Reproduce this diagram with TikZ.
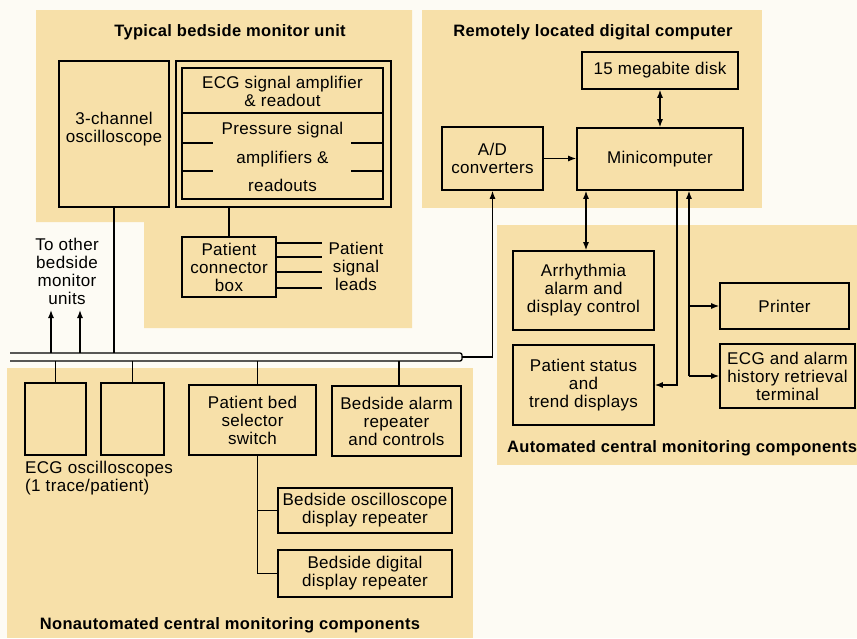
\documentclass[tikz,border=0pt]{standalone}
\usepackage{fontspec}
\setmainfont{Liberation Sans}[LetterSpace=2]
\usetikzlibrary{arrows.meta}
\definecolor{panel}{HTML}{F7E0A9}
\definecolor{paper}{HTML}{FDFBF4}
\newcommand\myfs{\fontsize{17}{18}\selectfont}
\newcommand\mytitle{\fontsize{16.5}{18}\selectfont\bfseries}
\begin{document}
\begin{tikzpicture}[x=1pt,y=-1pt,
  box/.style={draw, line width=1.6pt, align=center, inner sep=0pt, font=\myfs},
  lbl/.style={align=center, inner sep=0pt, font=\myfs},
  ttl/.style={inner sep=0pt, font=\mytitle},
  conn/.style={line width=1.3pt},
  >={Latex[length=8pt,width=6pt]}]
\useasboundingbox (0,0) rectangle (857,638);
\fill[paper] (0,0) rectangle (857,638);
% panels
\fill[panel] (36,10) -- (412,10) -- (412,328) -- (144,328) -- (144,222) -- (36,222) -- cycle;
\fill[panel] (422,10) rectangle (762,208);
\fill[panel] (497,225) rectangle (857,465);
\fill[panel] (7,368) rectangle (473,638);
% titles
\node[ttl] (t1) at (230,32) {Typical bedside monitor unit};
\node[ttl] (t2) at (593,32) {Remotely located digital computer};
\node[ttl, anchor=west] (t3) at (507,448) {Automated central monitoring components};
\node[ttl] (t4) at (230,625) {Nonautomated central monitoring components};
% bedside unit
\node[box, minimum width=110pt, minimum height=146pt] (osc3) at (114,134) {};
\node[lbl] (osc3t) at (114,129) {3-channel\\oscilloscope};
\node[box, minimum width=215pt, minimum height=146pt] (amp) at (283.5,134) {};
\node[box, minimum width=201pt, minimum height=131pt] (ampin) at (282.5,133.5) {};
\draw[line width=1.6pt] (ampin.west |- 0,113) -- (ampin.east |- 0,113);
\node[lbl] (ecgt) at (282.5,91) {ECG signal amplifier\\\& readout};
\node[lbl, font=\fontsize{17}{28.5}\selectfont] (prt) at (282.5,157) {Pressure signal\\amplifiers \&\\readouts};
\foreach \y in {143,171}{
  \draw[conn] (ampin.west |- 0,\y) -- (213,\y);
  \draw[conn] (351,\y) -- (ampin.east |- 0,\y);
}
\node[box, minimum width=94pt, minimum height=60pt] (pcb) at (229,267) {Patient\\connector\\box};
\draw[conn] (amp.south -| pcb.north) -- (pcb.north);
\foreach \y in {243,257,272,288}{
  \draw[conn] (pcb.east |- 0,\y) -- (322,\y);
}
\node[lbl] (leads) at (356,266) {Patient\\signal\\leads};
\node[lbl] (other) at (67,271.5) {To other\\bedside\\monitor\\units};
% bus
\coordinate (bustop) at (0,353);
\coordinate (busbot) at (0,361);
\coordinate (busend) at (462,357);
\draw[conn, rounded corners=2pt] (10,353) -- (462,353) -- (462,361) -- (10,361);
\coordinate (up1) at (51,310);
\coordinate (up2) at (80,310);
\draw[conn,->] (up1 |- bustop) -- (up1);
\draw[conn,->] (up2 |- bustop) -- (up2);
\draw[conn] (osc3.south) -- (osc3.south |- bustop);
% nonautomated
\node[box, minimum width=61pt, minimum height=72pt] (ecg1) at (55.5,419) {};
\node[box, minimum width=63pt, minimum height=72pt] (ecg2) at (132.5,419) {};
\node[lbl, align=left, anchor=north west] (ecgl) at (25,461) {ECG oscilloscopes\\(1 trace/patient)};
\node[box, minimum width=127pt, minimum height=70pt] (sel) at (252.5,420) {Patient bed\\selector\\switch};
\node[box, minimum width=129pt, minimum height=70pt] (alarm) at (396.5,421) {Bedside alarm\\repeater\\and controls};
\node[box, minimum width=174pt, minimum height=45pt] (rep1) at (365,510.5) {Bedside oscilloscope\\display repeater};
\node[box, minimum width=174pt, minimum height=47pt] (rep2) at (365,573.5) {Bedside digital\\display repeater};
\draw[conn] (ecg1.north |- busbot) -- (ecg1.north);
\draw[conn] (ecg2.north |- busbot) -- (ecg2.north);
\coordinate (selt) at ([xshift=5pt]sel.north);
\coordinate (selb) at ([xshift=5pt]sel.south);
\draw[conn] (selt |- busbot) -- (selt);
\draw[conn] ([xshift=2.5pt]alarm.north |- busbot) -- ([xshift=2.5pt]alarm.north);
\draw[conn] (selb) |- (rep2.west);
\draw[conn] (rep1.west) -- (rep1.west -| selb);
% remote computer
\node[box, minimum width=156pt, minimum height=37pt] (disk) at (660,70.5) {15 megabite disk};
\node[box, minimum width=166pt, minimum height=62pt] (mini) at (660,159) {Minicomputer};
\node[box, minimum width=101pt, minimum height=63pt] (ad) at (492.5,158.5) {A/D\\converters};
\draw[conn,->] (ad.east) -- (mini.west |- ad.east);
\draw[conn,<->] (disk.south) -- (mini.north);
\draw[conn,->] (busend) -| (ad.south);
% automated
\node[box, minimum width=141pt, minimum height=79pt] (arr) at (583.5,290.5) {Arrhythmia\\alarm and\\display control};
\node[box, minimum width=141pt, minimum height=80pt] (pst) at (583.5,385) {Patient status\\and\\trend displays};
\node[box, minimum width=129pt, minimum height=46pt] (printer) at (784.5,306) {Printer};
\node[box, minimum width=135pt, minimum height=64pt] (term) at (787.5,376) {ECG and alarm\\history retrieval\\terminal};
\coordinate (ba) at (586,0);
\coordinate (bb) at (677,0);
\coordinate (bc) at (689,0);
\draw[conn,<->] (mini.south -| ba) -- (arr.north -| ba);
\draw[conn,->] (mini.south -| bb) |- (pst.east);
\draw[conn,->] (bc |- term.west) -- (bc |- mini.south);
\draw[conn,->] (bc |- printer.west) -- (printer.west);
\draw[conn,->] (bc |- term.west) -- (term.west);
\end{tikzpicture}
\end{document}
